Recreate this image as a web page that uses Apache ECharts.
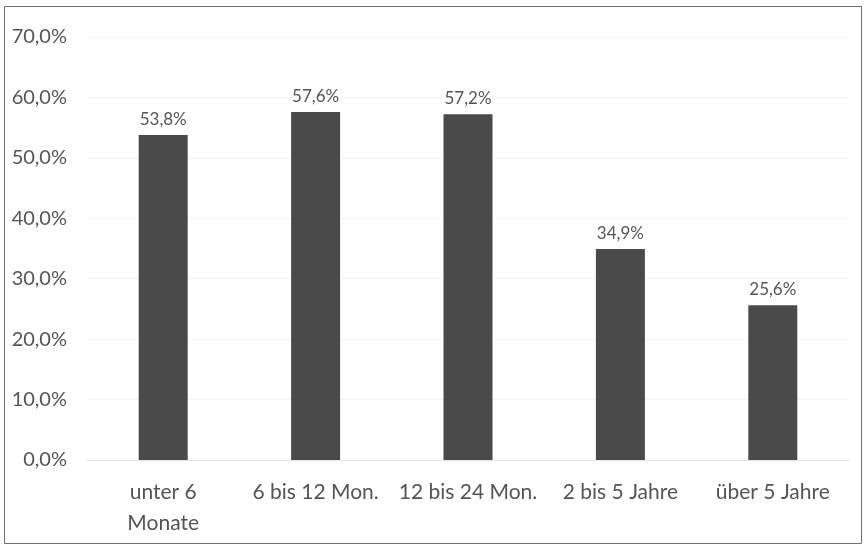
<!DOCTYPE html>
<html>
<head>
<meta charset="utf-8">
<script src="https://cdn.jsdelivr.net/npm/echarts@6/dist/echarts.min.js"></script>
<style>
  html, body { margin: 0; padding: 0; background: #fff; }
  #chart { width: 867px; height: 548px; }
</style>
</head>
<body>
<div id="chart"></div>
<script>
const categories = ["unter 6\nMonate", "6 bis 12 Mon.", "12 bis 24 Mon.", "2 bis 5 Jahre", "über 5 Jahre"];
const values = [53.8, 57.6, 57.2, 34.9, 25.6];

const fmt = (v) => v.toFixed(1).replace(".", ",") + "%";

const chart = echarts.init(document.getElementById("chart"));

chart.setOption({
  animation: false,
  textStyle: { fontFamily: "Lato" },
  graphic: [
    {
      type: "rect",
      shape: { x: 4.5, y: 6.5, width: 857, height: 537 },
      style: { fill: "none", stroke: "#6e6e6e", lineWidth: 1 },
    },
  ],
  grid: { left: 87, right: 18, top: 37, bottom: 88 },
  xAxis: {
    type: "category",
    data: categories,
    axisLine: { lineStyle: { color: "#e2e2e2", width: 1 } },
    axisTick: { show: false },
    axisLabel: {
      color: "#555",
      fontSize: 21,
      margin: 17,
      lineHeight: 31,
      interval: 0,
    },
  },
  yAxis: {
    type: "value",
    min: 0,
    max: 70,
    interval: 10,
    axisLine: { show: false },
    axisTick: { show: false },
    splitLine: { lineStyle: { color: "#f5f5f5" } },
    axisLabel: {
      color: "#555",
      fontSize: 20,
      margin: 20,
      formatter: (v) => fmt(v),
    },
  },
  series: [
    {
      type: "bar",
      data: values,
      barWidth: 49,
      itemStyle: { color: "#4a4a4a" },
      label: {
        show: true,
        position: "top",
        distance: 7,
        color: "#555",
        fontSize: 17,
        formatter: (p) => fmt(p.value),
      },
    },
  ],
});
</script>
</body>
</html>
